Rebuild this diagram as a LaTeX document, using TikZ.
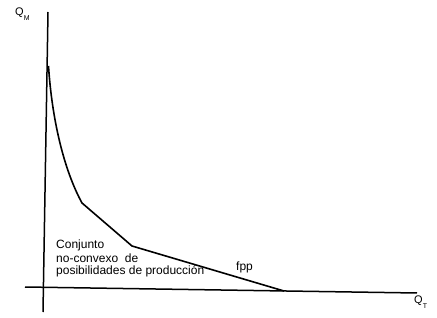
\documentclass[tikz,border=0pt]{standalone}
\usepackage{fontspec}
\setmainfont{Liberation Sans}
\usepackage{tikz}
\usetikzlibrary{positioning,calc}
\tikzset{
  axis/.style={line width=1.5pt, draw=black},
  fppline/.style={line width=1.6pt, draw=black, line join=round},
  lbl/.style={font=\fontsize{12}{13}\selectfont, inner sep=0pt, anchor=base west},
  qlbl/.style={font=\fontsize{11}{12}\selectfont, inner sep=0pt, anchor=north west},
}
\newcommand{\qsub}[1]{\raisebox{-5pt}{\fontsize{7}{7}\selectfont #1}}

\begin{document}
\begin{tikzpicture}[x=1pt,y=-1pt]
  \useasboundingbox (0,0) rectangle (437,318);
  % axes
  \coordinate (ytop) at (48,12);
  \coordinate (ybot) at (43,312);
  \coordinate (xleft) at (25,287);
  \coordinate (xright) at (417,293);
  \draw[axis] (ytop)--(ybot);
  \draw[axis] (xleft)--(xright);
  % frontier
  \coordinate (f0) at (48.5,66);
  \coordinate (f1) at (82,203);
  \coordinate (f2) at (132,246);
  \coordinate (f3) at (284,291);
  \draw[fppline] (f0) .. controls (52,120) and (64,170) .. (f1) -- (f2) -- (f3);
  % labels
  \node[qlbl] (qm) at (15,8) {Q\qsub{M}};
  \node[qlbl] (qt) at (414,296) {Q\qsub{T}};
  \node[lbl] (conj) at (56,249) {Conjunto};
  \node[lbl] (ncx) at (56,262) {no-convexo\ \ de};
  \node[lbl] (pos) at (56,275) {posibilidades de producción};
  \node[lbl] (fpp) at (236,270) {fpp};
\end{tikzpicture}
\end{document}
